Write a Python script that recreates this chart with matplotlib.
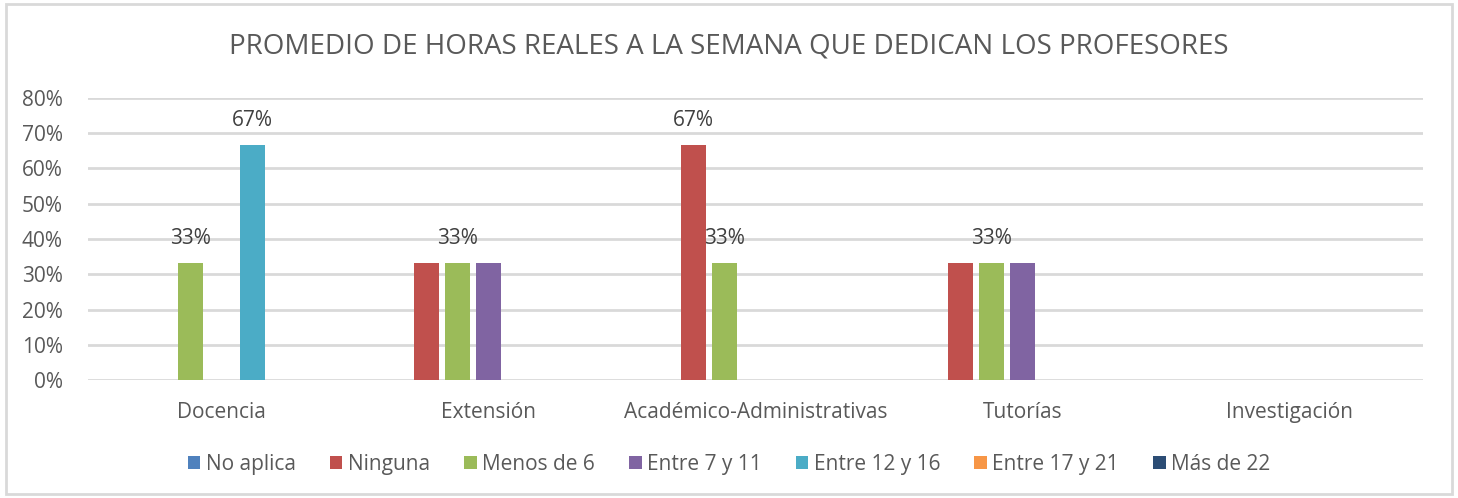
import numpy as np
import matplotlib.pyplot as plt
from matplotlib.patches import Rectangle

categories = ["Docencia", "Extensión", "Académico-Administrativas", "Tutorías", "Investigación"]
series = ["No aplica", "Ninguna", "Menos de 6", "Entre 7 y 11", "Entre 12 y 16", "Entre 17 y 21", "Más de 22"]
colors = ["#4f81bd", "#c0504d", "#9bbb59", "#8064a2", "#4bacc6", "#f79646", "#2c4d75"]

# rows = series, columns = categories
values = [
    [0.0, 0.0, 0.0, 0.0, 0.0],
    [0.0, 0.333, 0.667, 0.333, 0.0],
    [0.333, 0.333, 0.333, 0.333, 0.0],
    [0.0, 0.333, 0.0, 0.333, 0.0],
    [0.667, 0.0, 0.0, 0.0, 0.0],
    [0.0, 0.0, 0.0, 0.0, 0.0],
    [0.0, 0.0, 0.0, 0.0, 0.0],
]
# which bars carry a data label
labeled = [
    [0, 0, 0, 0, 0],
    [0, 0, 1, 0, 0],
    [1, 1, 1, 1, 0],
    [0, 0, 0, 0, 0],
    [1, 0, 0, 0, 0],
    [0, 0, 0, 0, 0],
    [0, 0, 0, 0, 0],
]

plt.rcParams["font.family"] = ["Open Sans", "DejaVu Sans"]
text_color = "#595959"

fig = plt.figure(figsize=(14.58, 4.98), dpi=100)
fig.patches.append(Rectangle((6 / 1458, 4 / 498), 1446 / 1458, 490 / 498,
                             transform=fig.transFigure, fill=False,
                             edgecolor="#d9d9d9", linewidth=2))
ax = fig.add_axes([88 / 1458, 1 - 380 / 498, (1423 - 88) / 1458, (380 - 98) / 498])

x = np.arange(len(categories))
slot = 0.116
width = 0.094
for i, name in enumerate(series):
    pos = x + (i - 3) * slot
    ax.bar(pos, values[i], width=width, color=colors[i], label=name, zorder=3)
    for j in range(len(categories)):
        if labeled[i][j]:
            ax.text(pos[j], values[i][j] + 0.04, f"{values[i][j]:.0%}",
                    ha="center", va="bottom", fontsize=15, color="#404040", zorder=4)

ax.set_xlim(-0.5, len(categories) - 0.5)
ax.set_ylim(0, 0.8)
ax.set_yticks(np.arange(0, 0.81, 0.1))
ax.set_yticklabels([f"{int(round(t * 100))}%" for t in np.arange(0, 0.81, 0.1)])
ax.set_xticks(x)
ax.set_xticklabels(categories)
ax.tick_params(axis="both", length=0, labelsize=15, colors=text_color)
ax.tick_params(axis="x", pad=16)
ax.tick_params(axis="y", pad=18)
ax.grid(axis="y", color="#d9d9d9", linewidth=2, zorder=0)
for s in ax.spines.values():
    s.set_visible(False)

fig.text(0.5, 1 - 47 / 498, "PROMEDIO DE HORAS REALES A LA SEMANA QUE DEDICAN LOS PROFESORES",
         ha="center", va="center", fontsize=20, color=text_color)

fig.legend(loc="center", bbox_to_anchor=(0.5, 1 - 464 / 498), ncol=7, frameon=False,
           fontsize=15, labelcolor=text_color, handlelength=0.6, handleheight=0.6,
           handletextpad=0.25, columnspacing=1.65)

fig.savefig("out.png", dpi=100)
